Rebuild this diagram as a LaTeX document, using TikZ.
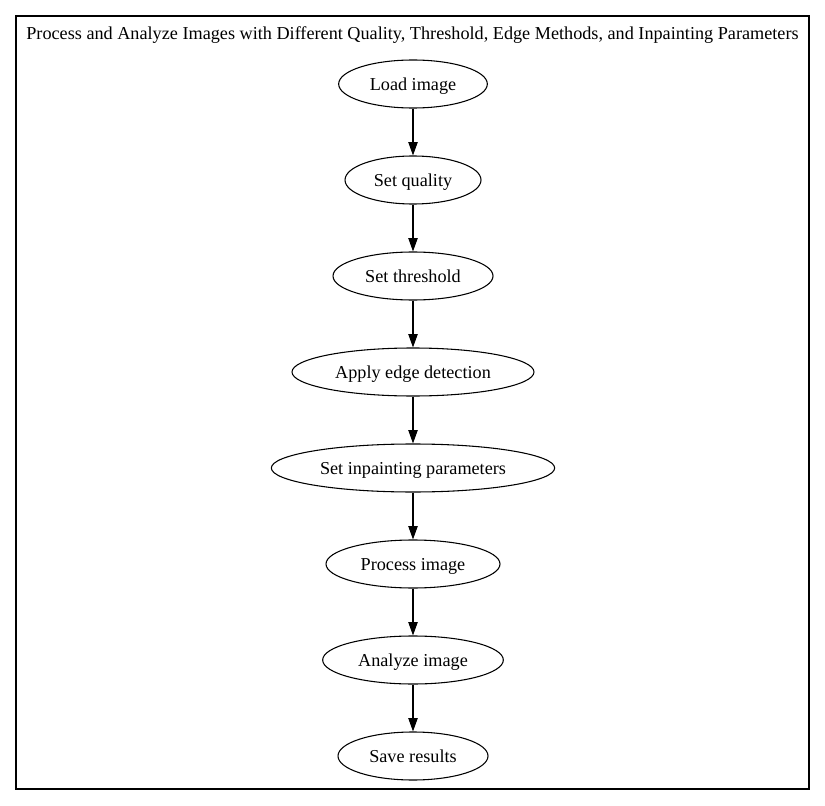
\documentclass[tikz,border=0pt]{standalone}
\usepackage{fontspec}
\setmainfont{Liberation Serif}
\usetikzlibrary{shapes.geometric,arrows.meta}
\begin{document}
\begin{tikzpicture}[x=0.75pt,y=-0.75pt,
  font=\fontsize{13.65pt}{16pt}\selectfont,
  stepnode/.style={ellipse,draw,line width=0.8pt,minimum height=36pt,minimum width=#1,inner sep=0pt,text height=12.5pt,text depth=3pt},
  flow/.style={-{Triangle[length=10pt,width=7pt]},line width=0.8pt}]
\useasboundingbox (0,0) rectangle (825,806);
\draw[line width=0.8pt] (16,16) rectangle (809,789);
\node[text height=12.5pt,text depth=3pt] (title) at (412.5,33) {Process and Analyze Images with Different Quality, Threshold, Edge Methods, and Inpainting Parameters};
\node[stepnode=111.5pt] (n1) at (413,84) {Load image};
\node[stepnode=102pt] (n2) at (413,180) {Set quality};
\node[stepnode=120pt] (n3) at (413,276) {Set threshold};
\node[stepnode=181.5pt] (n4) at (413,372) {Apply edge detection};
\node[stepnode=212.5pt] (n5) at (413,468) {Set inpainting parameters};
\node[stepnode=130.5pt] (n6) at (413,564) {Process image};
\node[stepnode=135.5pt] (n7) at (413,660) {Analyze image};
\node[stepnode=112.5pt] (n8) at (413,756) {Save results};
\draw[flow] (n1) -- (n2);
\draw[flow] (n2) -- (n3);
\draw[flow] (n3) -- (n4);
\draw[flow] (n4) -- (n5);
\draw[flow] (n5) -- (n6);
\draw[flow] (n6) -- (n7);
\draw[flow] (n7) -- (n8);
\end{tikzpicture}
\end{document}
